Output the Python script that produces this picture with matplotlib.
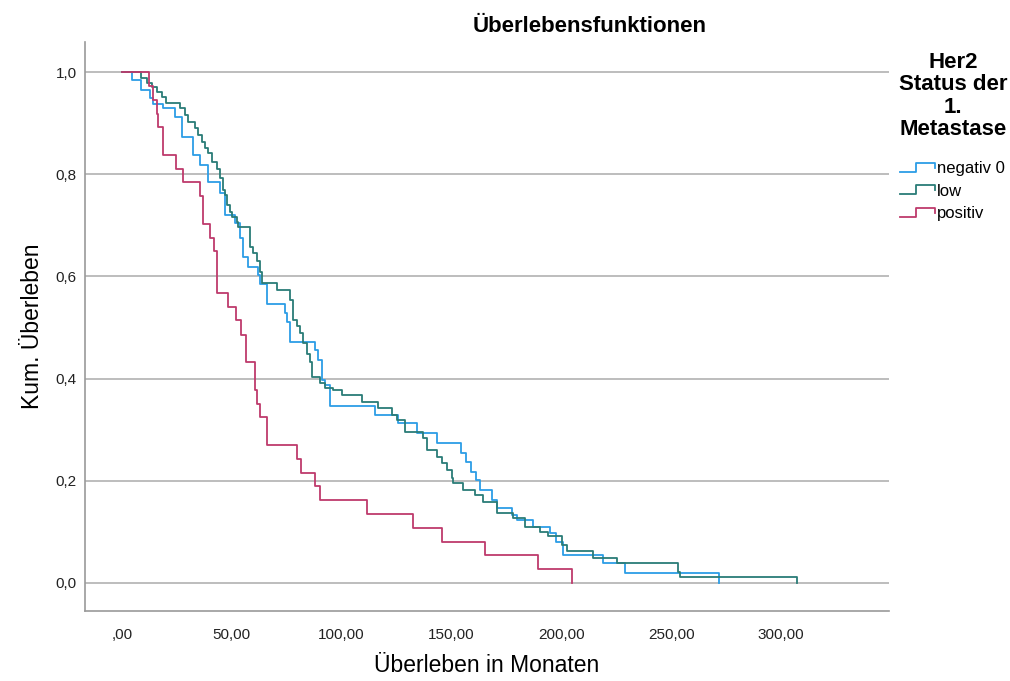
import numpy as np
import matplotlib.pyplot as plt
from matplotlib.lines import Line2D
from matplotlib.legend_handler import HandlerBase

plt.rcParams['font.family'] = ['Liberation Sans', 'DejaVu Sans']

# ---- Kaplan-Meier step data (time in months, cum. survival)
neg_t = [0, 4.4, 8.6, 12.7, 14.1, 18.7, 24.1, 27.3, 32.3, 35.5, 39.1, 44.6, 46.9,
         51.4, 53.7, 55.2, 57.5, 62.0, 62.8, 65.9, 74.2, 75.0, 76.5, 87.9, 89.4,
         91.0, 92.4, 94.7, 115.2, 125.8, 134.2, 143.3, 154.2, 156.6, 158.9, 161.2,
         163.0, 168.3, 170.6, 177.4, 179.7, 187.2, 194.8, 197.6, 200.9, 219.1,
         229.0, 271.8]
neg_s = [1.0, 0.984, 0.965, 0.949, 0.937, 0.929, 0.912, 0.873, 0.838, 0.818, 0.785,
         0.763, 0.720, 0.704, 0.675, 0.639, 0.619, 0.603, 0.586, 0.547, 0.528, 0.511,
         0.472, 0.456, 0.436, 0.397, 0.387, 0.346, 0.329, 0.313, 0.293, 0.273, 0.254,
         0.236, 0.218, 0.202, 0.182, 0.163, 0.146, 0.133, 0.124, 0.110, 0.098, 0.080,
         0.055, 0.038, 0.019, 0.0]

low_t = [0, 8.9, 11.2, 13.5, 15.8, 18.1, 20.3, 26.4, 28.7, 30.2, 33.2, 34.7, 36.3,
         37.8, 39.3, 40.8, 43.1, 44.6, 46.0, 46.9, 47.7, 49.2, 49.9, 52.2, 52.9,
         58.3, 59.8, 61.3, 62.8, 63.7, 70.4, 76.5, 78.0, 79.5, 81.0, 82.5, 84.1,
         85.6, 86.4, 90.1, 92.4, 96.2, 100.0, 109.1, 116.7, 122.8, 125.1, 128.8,
         137.2, 138.7, 143.3, 145.5, 147.8, 150.1, 150.8, 155.4, 160.7, 164.5,
         170.6, 178.1, 183.5, 190.3, 194.1, 200.2, 202.4, 214.6, 225.2, 253.2,
         254.0, 307.1]
low_s = [1.0, 0.988, 0.978, 0.971, 0.961, 0.951, 0.939, 0.929, 0.916, 0.903, 0.890,
         0.877, 0.864, 0.851, 0.841, 0.825, 0.811, 0.792, 0.770, 0.759, 0.740, 0.727,
         0.717, 0.707, 0.696, 0.658, 0.645, 0.631, 0.609, 0.587, 0.573, 0.554, 0.515,
         0.502, 0.489, 0.469, 0.449, 0.433, 0.404, 0.391, 0.381, 0.378, 0.368, 0.355,
         0.342, 0.329, 0.319, 0.296, 0.283, 0.260, 0.247, 0.234, 0.221, 0.205, 0.195,
         0.182, 0.172, 0.159, 0.136, 0.128, 0.110, 0.100, 0.091, 0.074, 0.063, 0.048,
         0.038, 0.022, 0.012, 0.0]

pos_t = [0, 12.3, 14.1, 15.9, 16.4, 18.7, 24.6, 27.8, 35.5, 36.9, 40.1, 41.9, 43.2,
         48.3, 51.9, 54.2, 56.4, 60.5, 61.5, 62.8, 66.0, 79.7, 81.5, 87.9, 90.1,
         111.5, 132.5, 145.7, 165.2, 189.4, 204.9]
pos_s = [1.0, 0.973, 0.946, 0.919, 0.892, 0.838, 0.811, 0.784, 0.757, 0.703, 0.676,
         0.649, 0.568, 0.541, 0.514, 0.486, 0.432, 0.378, 0.351, 0.324, 0.270, 0.243,
         0.216, 0.189, 0.162, 0.135, 0.108, 0.081, 0.054, 0.027, 0.0]

groups = ['negativ 0', 'low', 'positiv']
colors = ['#2C9DE6', '#2A7C77', '#BE3A6C']

x_ticks = [0, 50, 100, 150, 200, 250, 300]
x_labels = [',00', '50,00', '100,00', '150,00', '200,00', '250,00', '300,00']
y_ticks = [0.0, 0.2, 0.4, 0.6, 0.8, 1.0]
y_labels = ['0,0', '0,2', '0,4', '0,6', '0,8', '1,0']


class StepHandler(HandlerBase):
    # SPSS style legend icon: low line, step up, flat, small drop
    def create_artists(self, legend, orig_handle, xdescent, ydescent,
                       width, height, fontsize, trans):
        xs = np.array([0, 0.45, 0.45, 1.0, 1.0]) * width - xdescent
        ys = np.array([0.1, 0.1, 0.9, 0.9, 0.45]) * height - ydescent
        ln = Line2D(xs, ys, color=orig_handle.get_color(), lw=1.3)
        ln.set_transform(trans)
        return [ln]


fig = plt.figure(figsize=(10.1, 6.81), dpi=100)
ax = fig.add_axes([85 / 1010, 70 / 681, 804 / 1010, 569 / 681])

handles = []
for t, s, c, g in [(neg_t, neg_s, colors[0], groups[0]),
                   (low_t, low_s, colors[1], groups[1]),
                   (pos_t, pos_s, colors[2], groups[2])]:
    h, = ax.step(t, s, where='post', color=c, lw=1.3, label=g)
    handles.append(h)

ax.set_xlim(-16.8, 349.2)
ax.set_ylim(-0.055, 1.059)
ax.set_xticks(x_ticks)
ax.set_xticklabels(x_labels)
ax.set_yticks(y_ticks)
ax.set_yticklabels(y_labels)
ax.tick_params(length=0, labelsize=11, colors='#222222')
ax.tick_params(axis='x', pad=12)
ax.tick_params(axis='y', pad=6)
ax.grid(axis='y', color='#BDBDBD', lw=1.4)
ax.set_axisbelow(True)
for side in ['top', 'right']:
    ax.spines[side].set_visible(False)
for side in ['left', 'bottom']:
    ax.spines[side].set_color('#9A9A9A')
    ax.spines[side].set_linewidth(1.2)

ax.set_xlabel('Überleben in Monaten', fontsize=16.5, labelpad=9)
ax.set_ylabel('Kum. Überleben', fontsize=16.5, labelpad=8)

fig.text(590 / 1010, 1 - 26 / 681, 'Überlebensfunktionen', ha='center', va='center',
         fontsize=16, fontweight='bold')

# legend title as its own text block, entries below it
fig.text(953 / 1010, 1 - 52 / 681, 'Her2\nStatus der\n1.\nMetastase',
         ha='center', va='top', multialignment='center', fontsize=16,
         fontweight='bold', linespacing=1.08)

leg = ax.legend(handles, groups, handler_map={Line2D: StepHandler()},
                loc='upper left', bbox_to_anchor=(900 / 1010, 1 - 161 / 681),
                bbox_transform=fig.transFigure, frameon=False, fontsize=12,
                handlelength=2.1, handletextpad=0.12, labelspacing=0.45,
                borderpad=0, borderaxespad=0)

fig.savefig('out.png', dpi=100)
